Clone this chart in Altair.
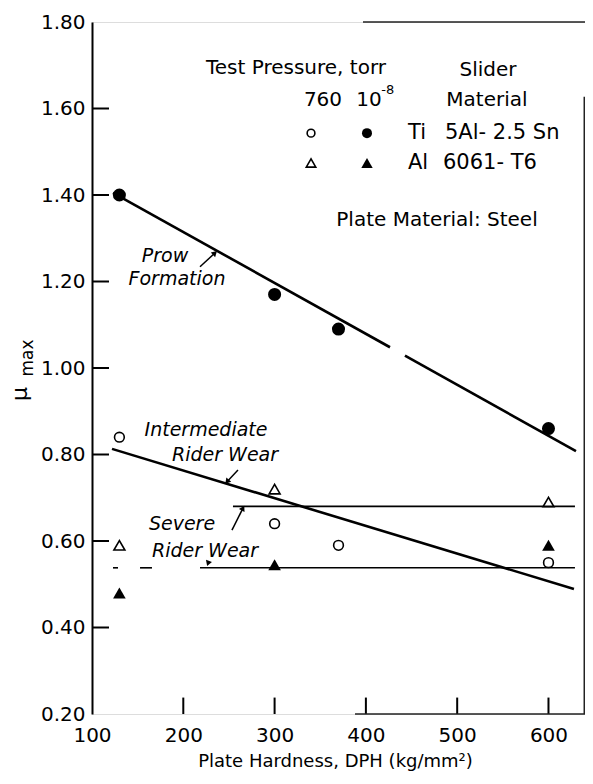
import altair as alt
import pandas as pd

# ---------------- data ----------------
hard_ti = [130, 300, 370, 600]
ti_vacuum = [1.40, 1.17, 1.09, 0.86]      # filled circles, 10^-8 torr
ti_air = [0.84, 0.64, 0.59, 0.55]         # open circles, 760 torr
hard_al = [130, 300, 600]
al_air = [0.59, 0.72, 0.69]               # open triangles, 760 torr
al_vacuum = [0.48, 0.545, 0.59]           # filled triangles, 10^-8 torr

# fitted lines (x1, y1, x2, y2)
thick_x1 = [123.0, 442.8, 121.9]
thick_y1 = [1.405, 1.0285, 0.813]
thick_x2 = [426.4, 630.1, 627.9]
thick_y2 = [1.048, 0.808, 0.489]

thin_x1 = [254.4, 123.0, 152.6, 218.3]
thin_x2 = [629.0, 128.5, 165.7, 629.0]
thin_y = [0.68, 0.538, 0.538, 0.538]

y_ticks = [0.20, 0.40, 0.60, 0.80, 1.00, 1.20, 1.40, 1.60, 1.80]
y_inner_ticks = [0.40, 0.60, 0.80, 1.00, 1.20, 1.40, 1.60]
x_ticks = [100, 200, 300, 400, 500, 600]
x_inner_ticks = [200, 300, 400, 500, 600]

FONT = "DejaVu Sans"
XD = [100, 640]
YD = [0.20, 1.80]

xs = alt.Scale(domain=XD, nice=False, zero=False)
ys = alt.Scale(domain=YD, nice=False, zero=False)

# -------- base axis layer (labels) --------
axis_df = pd.DataFrame({"x": [100, 640], "y": [0.2, 1.8]})
base = alt.Chart(axis_df).mark_point(opacity=0).encode(
    x=alt.X("x:Q", scale=xs,
            axis=alt.Axis(values=x_ticks, domain=False, ticks=False, grid=False,
                          labelFont=FONT, labelFontSize=20, labelColor="black",
                          labelPadding=11, format="d", labelFlush=False,
                          title="Plate Hardness, DPH (kg/mm²)",
                          titleFont=FONT, titleFontSize=18, titleFontWeight="normal",
                          titleColor="black", titleX=243, titleY=47,
                          titleBaseline="middle")),
    y=alt.Y("y:Q", scale=ys,
            axis=alt.Axis(values=y_ticks, domain=True, domainColor="black", domainWidth=2,
                          ticks=False, grid=False, format=".2f", labelFlush=False,
                          labelFont=FONT, labelFontSize=20, labelColor="black",
                          labelPadding=7, title=None)),
)

# inner ticks
yt = alt.Chart(pd.DataFrame({"y": y_inner_ticks})).mark_rule(color="black", strokeWidth=2).encode(
    x=alt.datum(100, scale=xs), x2=alt.datum(118.6), y=alt.Y("y:Q", scale=ys))
xt = alt.Chart(pd.DataFrame({"x": x_inner_ticks})).mark_rule(color="black", strokeWidth=2).encode(
    x=alt.X("x:Q", scale=xs), y=alt.datum(0.2, scale=ys), y2=alt.datum(0.238))

# partial frame
frame_df = pd.DataFrame({"x": [396.8, 388.1, 639.2], "x2": [640, 640, 639.2],
                         "y": [1.80, 0.20, 1.627], "y2": [1.80, 0.20, 0.20]})
frame = alt.Chart(frame_df).mark_rule(color="#222", strokeWidth=1.5).encode(
    x=alt.X("x:Q", scale=xs), x2="x2:Q", y=alt.Y("y:Q", scale=ys), y2="y2:Q")

# lines
thick = alt.Chart(pd.DataFrame({"x": thick_x1, "y": thick_y1, "x2": thick_x2, "y2": thick_y2})
                  ).mark_rule(color="black", strokeWidth=2.6).encode(
    x=alt.X("x:Q", scale=xs), x2="x2:Q", y=alt.Y("y:Q", scale=ys), y2="y2:Q")
thin = alt.Chart(pd.DataFrame({"x": thin_x1, "x2": thin_x2, "y": thin_y})
                 ).mark_rule(color="black", strokeWidth=1.6).encode(
    x=alt.X("x:Q", scale=xs), x2="x2:Q", y=alt.Y("y:Q", scale=ys))

# data points
def pts(xv, yv, shape, filled, size):
    df = pd.DataFrame({"x": xv, "y": yv})
    return alt.Chart(df).mark_point(shape=shape, filled=filled, size=size,
                                    color="black", strokeWidth=1.6, opacity=1).encode(
        x=alt.X("x:Q", scale=xs), y=alt.Y("y:Q", scale=ys))

p1 = pts(hard_ti, ti_vacuum, "circle", True, 170)
p2 = pts(hard_ti, ti_air, "circle", False, 95)
p3 = pts(hard_al, al_air, "triangle-up", False, 120)
p4 = pts(hard_al, al_vacuum, "triangle-up", True, 160)

# legend symbols
l1 = pts([339.9], [1.543], "circle", False, 60)
l2 = pts([401.2], [1.543], "circle", True, 100)
l3 = pts([339.9], [1.474], "triangle-up", False, 90)
l4 = pts([401.2], [1.474], "triangle-up", True, 130)

def txt(items, size=20, italic=False, align="center"):
    df = pd.DataFrame(items, columns=["x", "y", "t"])
    return alt.Chart(df).mark_text(font=FONT, fontSize=size, align=align, baseline="middle",
                                   fontStyle="italic" if italic else "normal", color="black").encode(
        x=alt.X("x:Q", scale=xs), y=alt.Y("y:Q", scale=ys), text="t:N")

legend_center = txt([
    (323.4, 1.694, "Test Pressure, torr"),
    (533.7, 1.689, "Slider"),
    (353.0, 1.620, "760"),
    (403.5, 1.620, "10"),
    (532.6, 1.620, "Material"),
    (477.9, 1.342, "Plate Material: Steel"),
])
legend_sup = txt([(424.0, 1.642, "-8")], size=13)
legend_left = txt([
    (446.1, 1.543, "Ti"),
    (486.6, 1.543, "5Al- 2.5 Sn"),
    (446.1, 1.474, "Al"),
    (484.4, 1.474, "6061- T6"),
], size=21, align="left")

notes = txt([
    (180.0, 1.259, "Prow"),
    (193.1, 1.206, "Formation"),
    (224.9, 0.857, "Intermediate"),
    (245.7, 0.799, "Rider Wear"),
    (198.6, 0.639, "Severe"),
    (223.8, 0.577, "Rider Wear"),
], size=19, italic=True)

# arrows
arrow_df = pd.DataFrame({"x": [218.3, 259.9, 253.3], "y": [1.234, 0.764, 0.625],
                         "x2": [234.7, 247.9, 265.4], "y2": [1.266, 0.737, 0.676]})
arrows = alt.Chart(arrow_df).mark_rule(color="black", strokeWidth=1.5).encode(
    x=alt.X("x:Q", scale=xs), x2="x2:Q", y=alt.Y("y:Q", scale=ys), y2="y2:Q")
head_df = pd.DataFrame({"x": [234.7, 247.9, 265.4, 227.1], "y": [1.266, 0.737, 0.676, 0.548],
                        "a": [47, 220, 28, 200]})
heads = alt.Chart(head_df).mark_point(shape="triangle-up", filled=True, size=40,
                                      color="black", opacity=1).encode(
    x=alt.X("x:Q", scale=xs), y=alt.Y("y:Q", scale=ys), angle=alt.Angle("a:Q", scale=None))

# y title mu_max
mu = alt.Chart(pd.DataFrame({"t": ["μ"]})).mark_text(
    font=FONT, fontSize=22, angle=270, align="center", baseline="middle", color="black").encode(
    x=alt.value(-72), y=alt.value(372), text="t:N")
mx = alt.Chart(pd.DataFrame({"t": ["max"]})).mark_text(
    font=FONT, fontSize=17, angle=270, align="center", baseline="middle", color="black").encode(
    x=alt.value(-64), y=alt.value(336), text="t:N")

chart = alt.layer(
    base, yt, xt, frame, thick, thin, arrows, heads,
    p1, p2, p3, p4, l1, l2, l3, l4,
    legend_center, legend_sup, legend_left, notes, mu, mx,
).properties(
    width=493, height=692,
    padding={"left": 84, "top": 14, "right": 0, "bottom": 58},
    autosize=alt.AutoSizeParams(type="none"),
).configure_view(stroke=None).configure(background="white")

chart.save("out.html", embed_options={"renderer": "svg", "actions": False})
